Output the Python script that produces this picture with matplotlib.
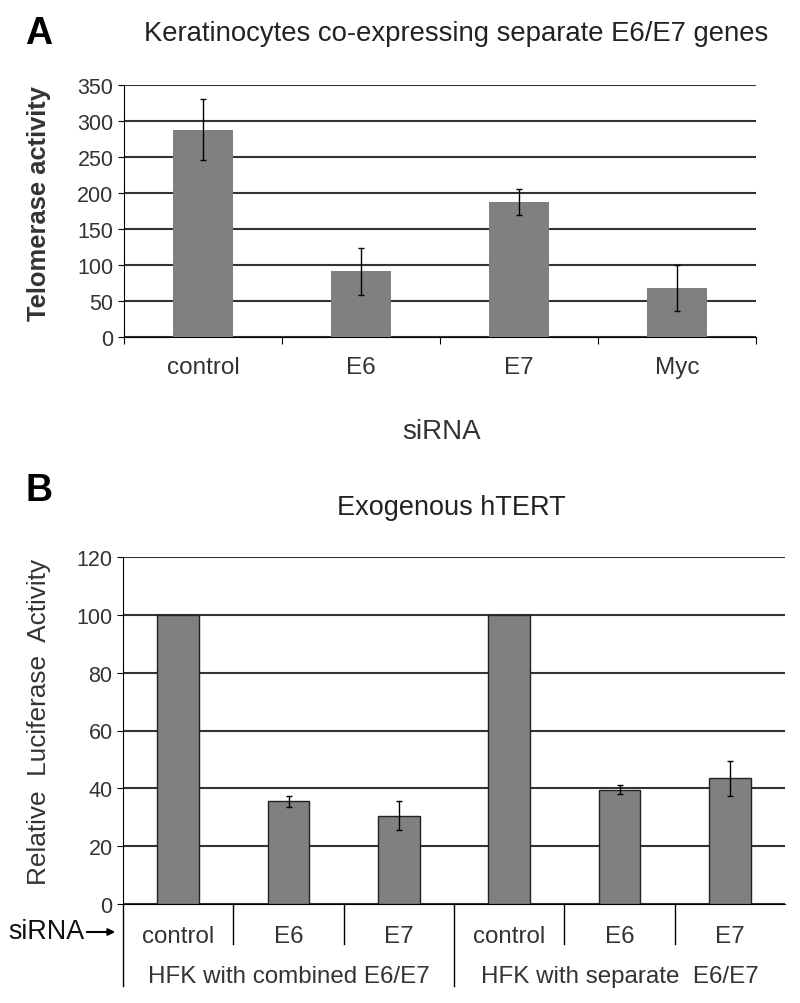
import matplotlib.pyplot as plt
import numpy as np

plt.rcParams['font.family'] = ['Liberation Sans', 'DejaVu Sans']

# panel A data
a_labels = ['control', 'E6', 'E7', 'Myc']
a_values = [288, 91, 187, 68]
a_errors = [42, 33, 18, 32]

# panel B data
b_labels = ['control', 'E6', 'E7', 'control', 'E6', 'E7']
b_groups = ['HFK with combined E6/E7', 'HFK with separate  E6/E7']
b_values = [100, 35.5, 30.5, 100, 39.5, 43.5]
b_errors = [0, 2, 5, 0, 1.5, 6]

bar_col = '#808080'
grid_col = '#333333'
txt_col = '#333333'

W, H = 800, 1004
fig = plt.figure(figsize=(8, 10.04), dpi=100)


def fy(y):
    return 1 - y / H


# ---- panel A
axA = fig.add_axes([124 / W, fy(338), 632 / W, 252 / H])
xa = np.arange(len(a_labels))
axA.bar(xa, a_values, width=0.38, color=bar_col, zorder=3)
axA.errorbar(xa, a_values, yerr=a_errors, fmt='none', ecolor='black',
             elinewidth=1, capsize=2.5, zorder=4)
axA.set_xlim(-0.5, 3.5)
axA.set_ylim(0, 350)
axA.set_yticks(range(0, 351, 50))
axA.yaxis.grid(True, color=grid_col, linewidth=1.5)
axA.set_axisbelow(True)
for s in ['top', 'right']:
    axA.spines[s].set_visible(False)
axA.set_xticks(np.arange(-0.5, 4, 1))
axA.set_xticklabels([])
axA.set_xticks(xa, minor=True)
axA.set_xticklabels(a_labels, minor=True)
axA.tick_params(axis='x', which='minor', length=0, pad=14, labelsize=17.5, labelcolor=txt_col)
axA.tick_params(axis='x', which='major', length=5)
axA.tick_params(axis='y', length=4, labelsize=15.5, labelcolor=txt_col)
fig.text(442 / W, fy(432), 'siRNA', fontsize=20, ha='center', va='center', color=txt_col)
fig.text(39 / W, fy(204), 'Telomerase activity', rotation=90,
         ha='center', va='center', fontsize=18.4, fontweight='bold', color=txt_col)
fig.text(25 / W, fy(34), 'A', fontsize=27, fontweight='bold', va='center')
fig.text(456 / W, fy(34), 'Keratinocytes co-expressing separate E6/E7 genes',
         fontsize=19.8, ha='center', va='center', color='#222222')

# ---- panel B
axB = fig.add_axes([123 / W, fy(905), 662 / W, 347 / H])
xb = np.arange(len(b_labels))
axB.bar(xb, b_values, width=0.38, color=bar_col, edgecolor='#222222',
        linewidth=1, zorder=3)
has_err = [i for i, e in enumerate(b_errors) if e > 0]
axB.errorbar(xb[has_err], [b_values[i] for i in has_err],
             yerr=[b_errors[i] for i in has_err], fmt='none', ecolor='black',
             elinewidth=1, capsize=2.5, zorder=4)
axB.set_xlim(-0.5, 5.5)
axB.set_ylim(0, 120)
axB.set_yticks(range(0, 121, 20))
axB.yaxis.grid(True, color=grid_col, linewidth=1.5)
axB.set_axisbelow(True)
for s in ['top', 'right']:
    axB.spines[s].set_visible(False)
axB.set_xticks([])
axB.tick_params(axis='y', length=4, labelsize=15.5, labelcolor=txt_col)

tr = axB.get_xaxis_transform()
y_bot = -0.236
y_short = -0.115
for x in [-0.5, 2.5]:
    axB.plot([x, x], [0, y_bot], transform=tr, color='black', lw=1, clip_on=False)
for x in [0.5, 1.5, 3.5, 4.5]:
    axB.plot([x, x], [0, y_short], transform=tr, color='black', lw=1, clip_on=False)
for i, lab in enumerate(b_labels):
    axB.text(i, -0.092, lab, transform=tr, ha='center', va='center',
             fontsize=17.4, color=txt_col)
for g, lab in enumerate(b_groups):
    axB.text(1 + 3 * g, -0.207, lab, transform=tr, ha='center', va='center',
             fontsize=17.4, color=txt_col)

fig.text(8 / W, fy(932), 'siRNA', fontsize=19.4, va='center', color='#111111')
axB.annotate('', xy=(118 / W, fy(933)), xytext=(84 / W, fy(933)),
             xycoords='figure fraction', textcoords='figure fraction',
             arrowprops=dict(arrowstyle='-|>', color='black', lw=1.5))

fig.text(39 / W, fy(722), 'Relative  Luciferase  Activity', rotation=90,
         ha='center', va='center', fontsize=18.9, color=txt_col)
fig.text(25 / W, fy(491), 'B', fontsize=27, fontweight='bold', va='center')
fig.text(451 / W, fy(508), 'Exogenous hTERT', fontsize=19.5, ha='center',
         va='center', color='#222222')

fig.savefig('out.png', dpi=100)
